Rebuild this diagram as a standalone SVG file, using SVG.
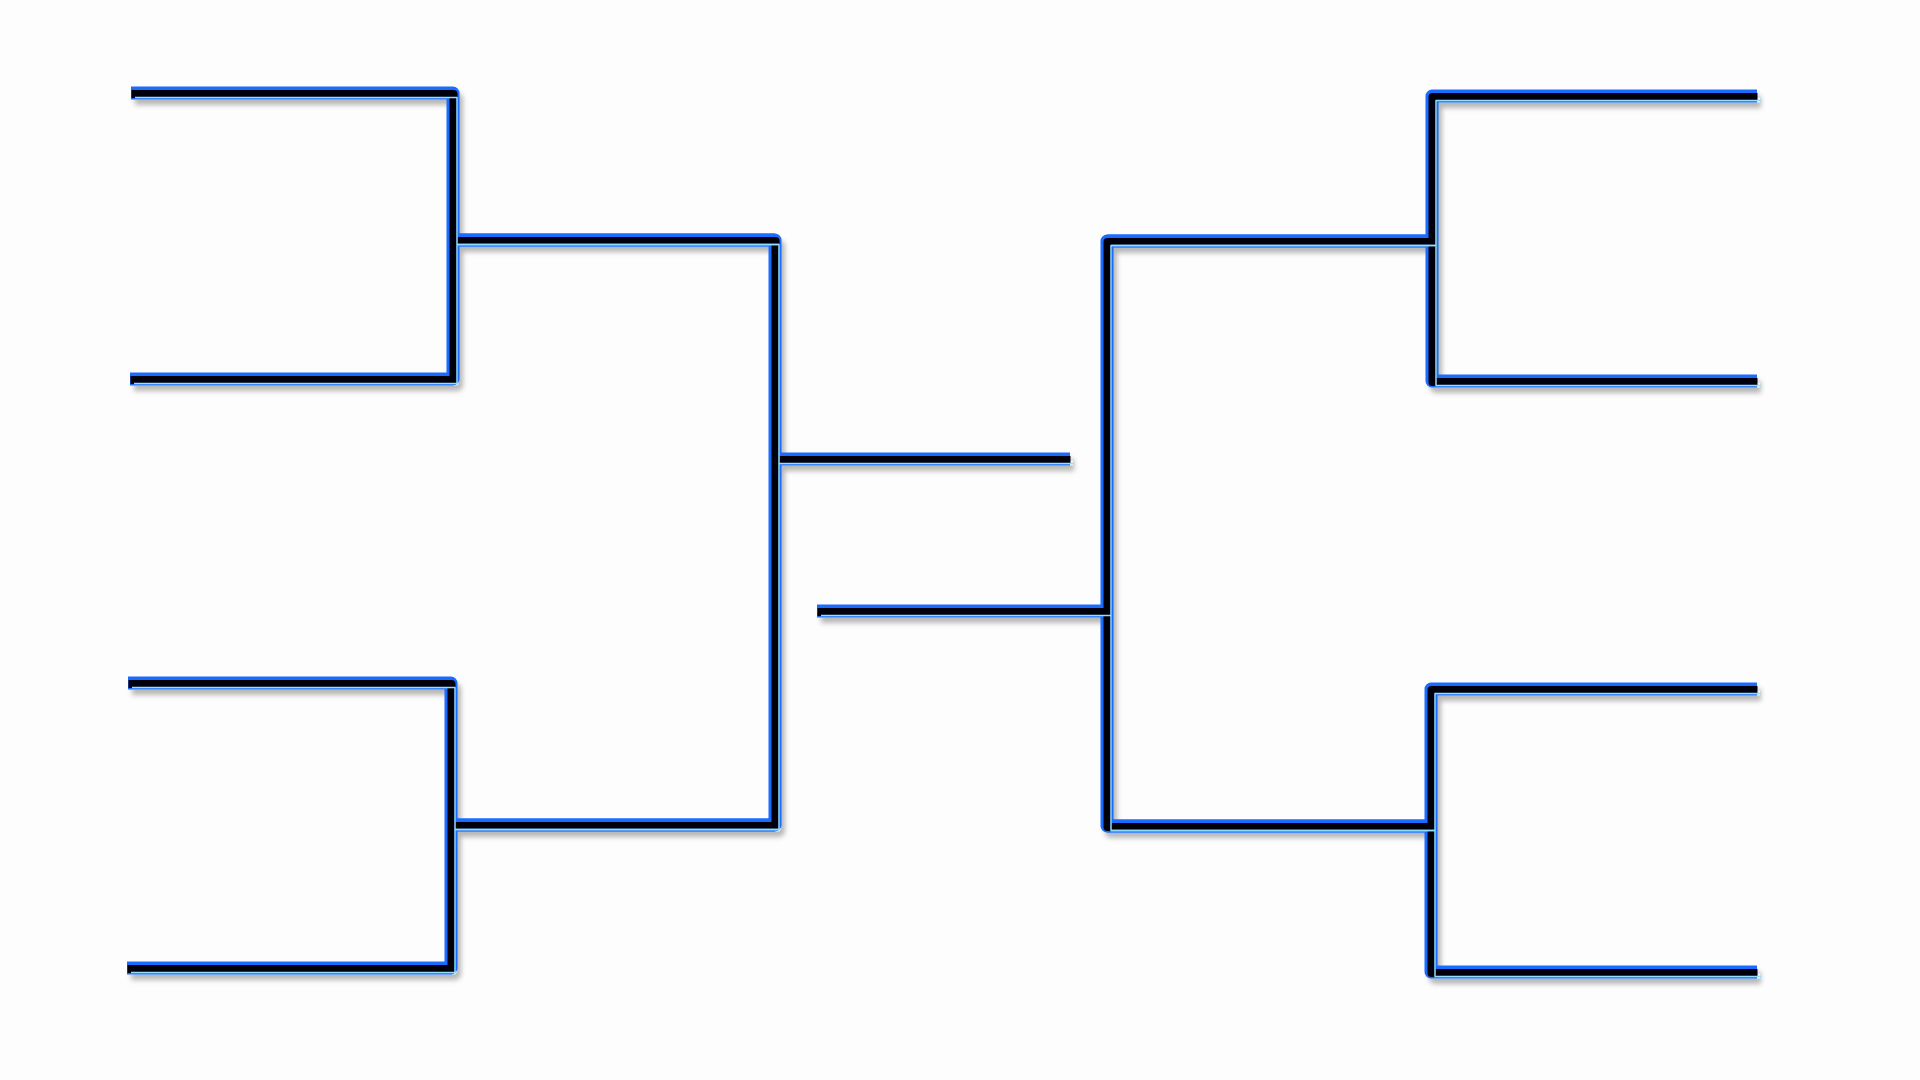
<svg xmlns="http://www.w3.org/2000/svg" xmlns:xlink="http://www.w3.org/1999/xlink" width="1920" height="1080" viewBox="0 0 1920 1080">
<defs>
<filter id="blur" x="-10%" y="-10%" width="120%" height="120%"><feGaussianBlur stdDeviation="2.5"/></filter>
<style>
.lines path{fill:none;stroke-linejoin:round;stroke-linecap:butt}
.shadow{stroke:#9a9a9a;stroke-width:12;opacity:.7;filter:url(#blur)}
.hl{stroke:#eef9ff;stroke-width:5}
.blue{stroke:#1a6cff;stroke-width:13}
.core{stroke:#00000c;stroke-width:8}
.spec{stroke:#8fe0ff;stroke-width:1.5}
</style>
</defs>
<rect width="1920" height="1080" fill="#fdfdfd"/>
<g id="connectors" class="lines">
<g id="src" fill="none">
<g id="left-top-pair"><path d="M131,93 H453 V379 H130"/><path d="M453,240 H775"/></g>
<g id="left-bottom-pair"><path d="M128,683 H451 V968 H127"/><path d="M451,825 H775"/></g>
<g id="left-semi"><path d="M453,240 H775 V825 H451"/><path d="M775,459 H1070"/></g>
<g id="right-top-pair"><path d="M1757,96 H1432 V381 H1757"/><path d="M1432,241 H1107"/></g>
<g id="right-bottom-pair"><path d="M1757,689 H1431 V972 H1757"/><path d="M1431,826 H1107"/></g>
<g id="right-semi"><path d="M1432,241 H1107 V826 H1431"/><path d="M1107,611 H817"/></g>
</g>
</g>
<g class="lines" pointer-events="none">
<use xlink:href="#src" class="shadow" transform="translate(4,6)"/>
<use xlink:href="#src" class="hl" transform="translate(3,4)"/>
<use xlink:href="#src" class="blue"/>
<use xlink:href="#src" class="core" transform="translate(0.5,1)"/>
<use xlink:href="#src" class="spec" transform="translate(4,4.5)"/>
</g>
</svg>
